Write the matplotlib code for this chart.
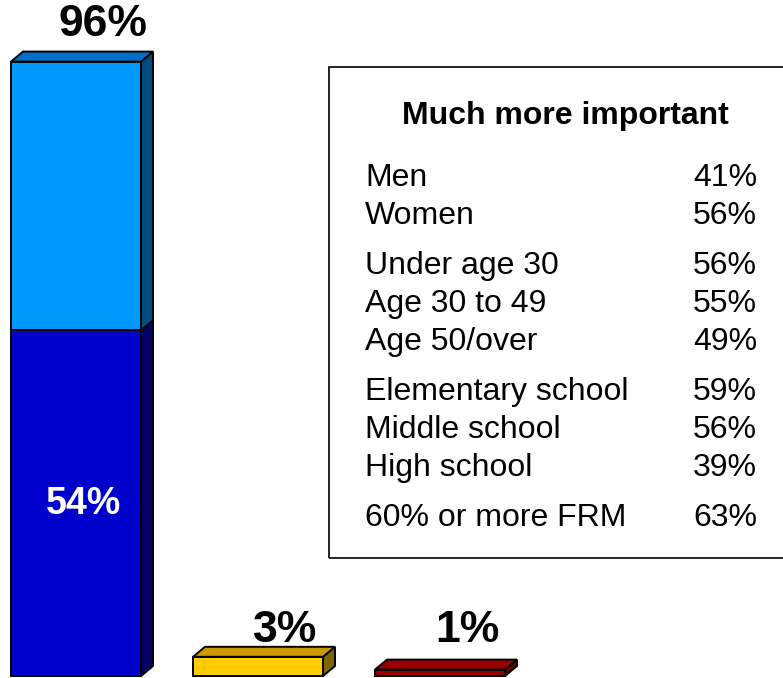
import matplotlib.pyplot as plt
from matplotlib.patches import Polygon, Rectangle

plt.rcParams['font.family'] = ['Liberation Sans', 'DejaVu Sans']

# ---- data
bar_labels = ["96%", "3%", "1%"]
bar_bottom = [54, 3, 1]          # lower segment of each bar
bar_top = [42, 0, 0]             # stacked segment
inner_label = "54%"

groups = [["Men", "Women"],
          ["Under age 30", "Age 30 to 49", "Age 50/over"],
          ["Elementary school", "Middle school", "High school"],
          ["60% or more FRM"]]
group_values = [["41%", "56%"],
                ["56%", "55%", "49%"],
                ["59%", "56%", "39%"],
                ["63%"]]
box_title = "Much more important"

# ---- colours: (front, top, side)
seg_colors = [
    [("#0000CC", "#0000A0", "#000066"), ("#0099FF", "#0070CC", "#004C80")],
    [("#FFCC00", "#CC9900", "#806600"), None],
    [("#990000", "#990000", "#660000"), None],
]

W, H = 783, 678
fig = plt.figure(figsize=(W / 100, H / 100), dpi=100)
ax = fig.add_axes([0, 0, 1, 1])
# 1 x-unit = 182 px, 1 y-unit (%) = 6.4 px; baseline at pixel 676 from top
ax.set_xlim(-76 / 182, (W - 76) / 182)
ax.set_ylim(-2 / 6.4, 676 / 6.4)
ax.axis('off')

width = 130 / 182
dx, dy = 12 / 182, 10 / 6.4
lw = 1.4

def box3d(x, y0, y1, cols, top=True):
    front, topc, side = cols
    ax.bar(x, y1 - y0, bottom=y0, width=width, color=front,
           edgecolor='black', linewidth=lw, zorder=3)
    xr = x + width / 2
    xl = x - width / 2
    ax.add_patch(Polygon([(xr, y0), (xr + dx, y0 + dy), (xr + dx, y1 + dy), (xr, y1)],
                         closed=True, facecolor=side, edgecolor='black',
                         linewidth=lw, zorder=2))
    if top:
        ax.add_patch(Polygon([(xl, y1), (xl + dx, y1 + dy), (xr + dx, y1 + dy), (xr, y1)],
                             closed=True, facecolor=topc, edgecolor='black',
                             linewidth=lw, zorder=2))

for i in range(len(bar_labels)):
    b, t = bar_bottom[i], bar_top[i]
    box3d(i, 0, b, seg_colors[i][0], top=(t == 0))
    if t > 0:
        box3d(i, b, b + t, seg_colors[i][1])
    total = b + t
    # small bars share one label line just above the baseline
    label_y = total + dy + 1.0 if total > 5 else 3.9
    ax.text(i + 0.15, label_y, bar_labels[i], ha='center', va='bottom',
            fontsize=32, fontweight='bold', color='black')

ax.text(0.04, bar_bottom[0] * 0.52 - 1.2, inner_label, ha='center', va='center',
        fontsize=27, fontweight='bold', color='white', zorder=5)

# ---- legend-style box
def fx(px):
    return px / W

def fy(py):
    return 1 - py / H

fig.patches.append(Rectangle((fx(329), fy(558)), fx(800) - fx(329), fy(67) - fy(558),
                             transform=fig.transFigure, fill=False,
                             edgecolor='black', linewidth=1.2))
fig.text(fx(565), fy(116), box_title, ha='center', va='center',
         fontsize=23, fontweight='bold')

y = 178
for gi, (names, vals) in enumerate(zip(groups, group_values)):
    for name, val in zip(names, vals):
        fig.text(fx(365), fy(y), name, ha='left', va='center', fontsize=23)
        fig.text(fx(757), fy(y), val, ha='right', va='center', fontsize=23)
        y += 38
    y += 12

fig.savefig("out.png", dpi=100)
